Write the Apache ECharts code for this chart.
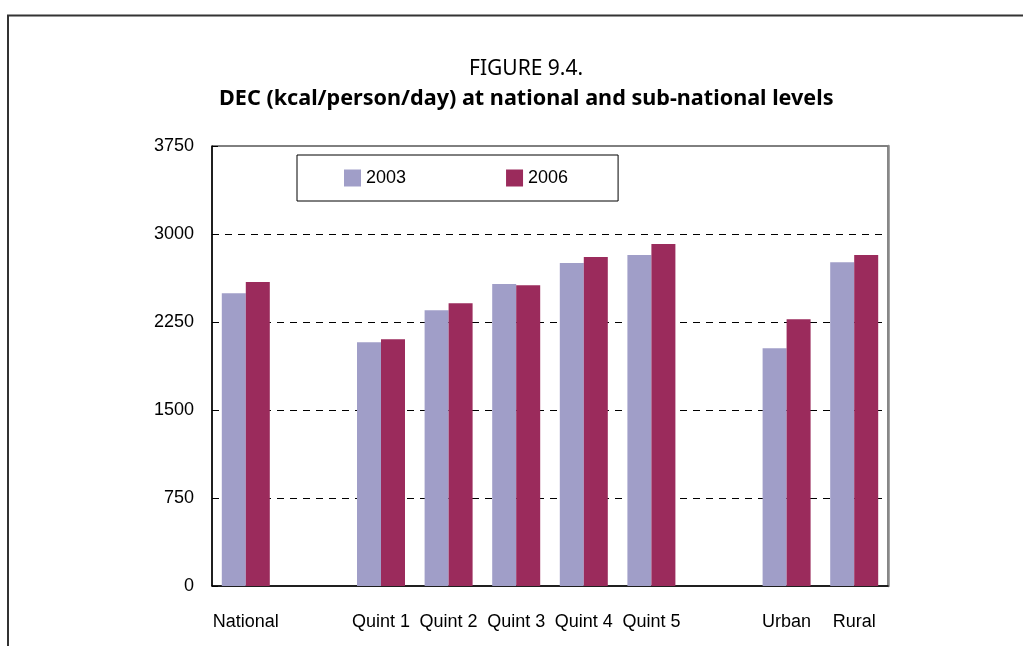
<!DOCTYPE html>
<html>
<head>
<meta charset="utf-8">
<script src="https://cdn.jsdelivr.net/npm/echarts@6/dist/echarts.min.js"></script>
<style>
  html, body { margin: 0; padding: 0; background: #fff; }
  #chart { width: 1023px; height: 646px; }
</style>
</head>
<body>
<div id="chart"></div>
<script>
// categories (blank slots are the gaps between groups)
const categories = ["National", " ", "Quint 1", "Quint 2", "Quint 3", "Quint 4", "Quint 5", "  ", "Urban", "Rural"]
const dec2003 = [2496, null, 2078, 2351, 2573, 2752, 2820, null, 2026, 2760]
const dec2006 = [2590, null, 2103, 2410, 2564, 2803, 2914, null, 2274, 2820]
const yTicks = [0, 750, 1500, 2250, 3000, 3750]

const labelFont = "'Liberation Sans', Arial, sans-serif"

const myChart = echarts.init(document.getElementById("chart"))
myChart.setOption({
  animation: false,
  title: [
    {
      text: "FIGURE 9.4.",
      left: 464,
      top: 54,
      textStyle: { fontFamily: "'Noto Sans', sans-serif", fontSize: 21, fontWeight: "normal", color: "#000" },
    },
    {
      text: "DEC (kcal/person/day) at national and sub-national levels",
      left: 214,
      top: 83,
      textStyle: { fontFamily: "'Noto Sans', sans-serif", fontSize: 21.6, fontWeight: "bold", color: "#000" },
    },
  ],
  legend: {
    data: ["2003", "2006"],
    left: 297,
    top: 155,
    padding: [14, 50, 14, 47],
    itemGap: 100,
    itemWidth: 17,
    itemHeight: 17,
    borderColor: "#000",
    borderWidth: 1,
    icon: "rect",
    textStyle: { fontFamily: labelFont, fontSize: 18, color: "#000" },
  },
  grid: {
    left: 212,
    right: 135,
    top: 146,
    bottom: 60,
    show: true,
    borderColor: "#000",
    borderWidth: 1,
  },
  xAxis: {
    type: "category",
    data: categories,
    axisLine: { lineStyle: { color: "#000", width: 1.5 } },
    axisTick: { inside: true, length: 6, interval: 0, lineStyle: { color: "#000" } },
    axisLabel: { interval: 0, margin: 27, fontFamily: labelFont, fontSize: 18, color: "#000" },
  },
  yAxis: [
    {
      type: "value",
      min: yTicks[0],
      max: yTicks[yTicks.length - 1],
      interval: 750,
      axisLine: { show: true, lineStyle: { color: "#000", width: 1.5 } },
      axisTick: { show: true, inside: true, length: 6, lineStyle: { color: "#000" } },
      axisLabel: { margin: 18, fontFamily: labelFont, fontSize: 18, color: "#000", formatter: (v) => String(v) },
      splitLine: { showMinLine: false, showMaxLine: false, lineStyle: { color: "#000", type: [7, 6], width: 1 } },
    },
    {
      type: "value",
      position: "right",
      min: yTicks[0],
      max: yTicks[yTicks.length - 1],
      interval: 750,
      axisLine: { show: true, lineStyle: { color: "#888", width: 2.5 } },
      axisTick: { show: false },
      axisLabel: { show: false },
      splitLine: { show: false },
    },
  ],
  series: [
    {
      name: "2003",
      type: "bar",
      data: dec2003,
      barWidth: 24,
      barGap: "0%",
      itemStyle: { color: "#A09EC8" },
    },
    {
      name: "2006",
      type: "bar",
      data: dec2006,
      barWidth: 24,
      barGap: "0%",
      itemStyle: { color: "#9B2B5C" },
    },
  ],
  graphic: [
    {
      type: "polyline",
      shape: { points: [[8, 646], [8, 15.5], [1023, 15.5]] },
      style: { stroke: "#333", lineWidth: 2, fill: null },
      silent: true,
    },
  ],
})
</script>
</body>
</html>
